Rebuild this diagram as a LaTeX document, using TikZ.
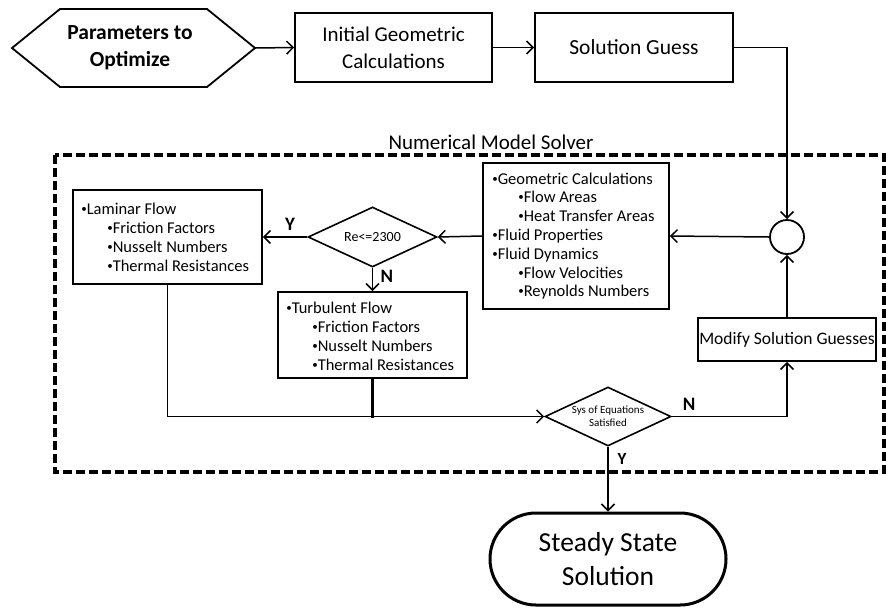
\documentclass[tikz,border=0pt]{standalone}
\usepackage{fontspec}
\setmainfont{Carlito}
\usetikzlibrary{arrows.meta,shapes.geometric,shapes.misc}
\newcommand{\fs}[2]{\fontsize{#1}{#2}\selectfont}
\newcommand{\indentitem}{\hspace*{26pt}}
\newcommand{\bul}{\raisebox{0.25ex}{\fontsize{11}{11}\selectfont•}}
\begin{document}
\begin{tikzpicture}[x=1pt,y=-1pt,
  box/.style={draw,line width=1.8pt,inner sep=0pt,align=center},
  frame/.style={draw,line width=1.8pt,inner sep=0pt},
  listtext/.style={anchor=west,inner sep=0pt,align=left},
  decision/.style={diamond,draw,line width=1.6pt,inner sep=0pt,aspect=2.1,align=center},
  conn/.style={line width=1.5pt,-{Straight Barb[length=6.5pt,width=13pt,line width=1.5pt]}},
  yn/.style={font=\bfseries\fs{19}{22}}]
\useasboundingbox (0,0) rectangle (888,611);

% solver frame
\draw[line width=3.4pt,dash pattern=on 9pt off 4pt] (55,155) rectangle (884,472);
\node[font=\fs{21}{24}] (frametitle) at (491,142) {Numerical Model Solver};

% input hexagon
\draw[line width=1.8pt,line join=miter] (12,48) -- (60,9) -- (207,9) -- (255,48) -- (207,87) -- (60,87) -- cycle;
\coordinate (paramtip) at (255,48);
\node[font=\bfseries\fs{21.5}{27},align=center] (param) at (130,48) {Parameters to\\Optimize};

% top row
\node[box,minimum width=197pt,minimum height=69pt,font=\fs{21}{27}] (init) at (393.5,47.5) {Initial Geometric\\Calculations};
\node[box,minimum width=198pt,minimum height=69pt,font=\fs{21.5}{24}] (guess) at (634,47.5) {Solution Guess};

% summing junction
\node[circle,draw,line width=1.8pt,minimum size=34pt,inner sep=0pt] (sum) at (787,237) {};

% property calculations
\node[frame,minimum width=186pt,minimum height=146pt] (geo) at (576,236) {};
\node[listtext,font=\fs{16.5}{18.8}] (geotext) at ([xshift=10pt]geo.west)
  {\bul Geometric Calculations\\
   \indentitem\bul Flow Areas\\
   \indentitem\bul Heat Transfer Areas\\
   \bul Fluid Properties\\
   \bul Fluid Dynamics\\
   \indentitem\bul Flow Velocities\\
   \indentitem\bul Reynolds Numbers};

\node[decision,minimum width=129pt,minimum height=60pt,font=\fs{14}{16}] (re) at (372.5,237) {Re<=2300};

% laminar branch
\node[frame,minimum width=189pt,minimum height=94pt] (lam) at (167.5,237) {};
\node[listtext,font=\fs{16.5}{19.1}] (lamtext) at ([xshift=9pt]lam.west)
  {\bul Laminar Flow\\
   \indentitem\bul Friction Factors\\
   \indentitem\bul Nusselt Numbers\\
   \indentitem\bul Thermal Resistances};

% turbulent branch
\node[frame,minimum width=189pt,minimum height=86pt] (turb) at (372.5,335) {};
\node[listtext,font=\fs{16.5}{19.1}] (turbtext) at ([xshift=9pt,yshift=-1pt]turb.west)
  {\bul Turbulent Flow\\
   \indentitem\bul Friction Factors\\
   \indentitem\bul Nusselt Numbers\\
   \indentitem\bul Thermal Resistances};

\node[box,minimum width=178pt,minimum height=43pt,font=\fs{17.5}{20}] (mod) at (787,339.5) {Modify Solution Guesses};

\node[decision,minimum width=126pt,minimum height=59pt,font=\fs{11}{13}] (sys) at (608,416.5) {Sys of Equations\\Satisfied};

\node[rounded rectangle,draw,line width=3pt,minimum width=236pt,minimum height=92pt,inner sep=0pt,align=center,font=\fs{27.5}{34}] (steady) at (608,559) {Steady State\\Solution};

% connectors
\draw[conn] (paramtip) -- (init.west);
\draw[conn] (init.east) -- (guess.west);
\draw[conn] (guess.east) -| (sum.north);
\draw[conn] (sum.west) -- (geo.east);
\draw[conn] (geo.west) -- (re.east);
\draw[conn] (re.west) -- (lam.east);
\node[yn] (ylam) at (290,224) {Y};
\draw[conn] (re.south) -- (turb.north);
\node[yn] (nturb) at (387,276) {N};
\draw[conn] (lam.south) |- (sys.west);
\coordinate (turbjoin) at (turb.south |- sys.west);
\draw[line width=3pt] (turb.south) -- ([yshift=-1pt]turbjoin);
\draw[conn] (sys.east) -| (mod.south);
\node[yn] (nsys) at (689,404) {N};
\draw[conn] (mod.north) -- (sum.south);
\draw[conn] (sys.south) -- (steady.north);
\node[yn,font=\bfseries\fs{17}{20}] (ysys) at (622,459) {Y};
\end{tikzpicture}
\end{document}
